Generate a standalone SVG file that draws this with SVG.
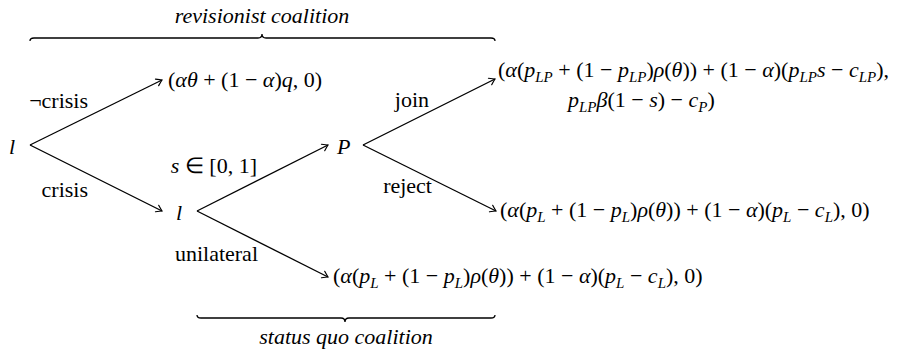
<svg xmlns="http://www.w3.org/2000/svg" width="911" height="352" viewBox="0 0 911 352">
<style>
  .edge { stroke: #000; stroke-width: 1.3; fill: none; }
  .head { stroke: #000; stroke-width: 1.2; fill: none; stroke-linecap: round; }
  .brace { stroke: #000; stroke-width: 1.3; fill: none; }
</style>
<rect width="911" height="352" fill="#fff"/>

<g id="connectors">
  <line class="edge" x1="30" y1="145" x2="162" y2="80"/>
  <path class="head" transform="translate(162,80) rotate(-26.2)" d="M-5.5,-3.6 Q-1.6,-0.9 0,0 Q-1.6,0.9 -5.5,3.6"/>
  <line class="edge" x1="30" y1="145" x2="162" y2="211"/>
  <path class="head" transform="translate(162,211) rotate(26.6)" d="M-5.5,-3.6 Q-1.6,-0.9 0,0 Q-1.6,0.9 -5.5,3.6"/>
  <line class="edge" x1="197" y1="211" x2="328" y2="145"/>
  <path class="head" transform="translate(328,145) rotate(-26.7)" d="M-5.5,-3.6 Q-1.6,-0.9 0,0 Q-1.6,0.9 -5.5,3.6"/>
  <line class="edge" x1="197" y1="211" x2="328" y2="277"/>
  <path class="head" transform="translate(328,277) rotate(26.7)" d="M-5.5,-3.6 Q-1.6,-0.9 0,0 Q-1.6,0.9 -5.5,3.6"/>
  <line class="edge" x1="363" y1="145" x2="495" y2="79"/>
  <path class="head" transform="translate(495,79) rotate(-26.6)" d="M-5.5,-3.6 Q-1.6,-0.9 0,0 Q-1.6,0.9 -5.5,3.6"/>
  <line class="edge" x1="363" y1="145" x2="496" y2="211"/>
  <path class="head" transform="translate(496,211) rotate(26.4)" d="M-5.5,-3.6 Q-1.6,-0.9 0,0 Q-1.6,0.9 -5.5,3.6"/>
</g>

<g id="edge-labels" text-anchor="end">
  <text font-family="Liberation Serif" font-size="22" x="88" y="108">¬crisis</text>
  <text font-family="Liberation Serif" font-size="22" x="88" y="197">crisis</text>
  <text font-family="Liberation Serif" font-size="22" x="257" y="173"><tspan font-style="italic">s</tspan> ∈ [0, 1]</text>
  <text font-family="Liberation Serif" font-size="22" x="258" y="261">unilateral</text>
  <text font-family="Liberation Serif" font-size="22" x="429" y="107">join</text>
  <text font-family="Liberation Serif" font-size="22" x="432" y="193">reject</text>
</g>

<g id="node-l1"><text font-family="Liberation Serif" font-size="22" font-style="italic" x="9" y="154">l</text></g>
<g id="node-l2"><text font-family="Liberation Serif" font-size="22" font-style="italic" x="176" y="220">l</text></g>
<g id="node-P"><text font-family="Liberation Serif" font-size="22" font-style="italic" x="337" y="154">P</text></g>

<g id="payoff-nocrisis">
  <text font-family="Liberation Serif" font-size="22" x="168" y="87">(<tspan font-style="italic">αθ</tspan> + (1 − <tspan font-style="italic">α</tspan>)<tspan font-style="italic">q</tspan>, 0)</text>
</g>

<g id="payoff-join">
  <text font-family="Liberation Serif" font-size="22" x="498" y="77">(<tspan font-style="italic">α</tspan>(<tspan font-style="italic">p</tspan><tspan font-size="15" font-style="italic" dy="5">LP</tspan><tspan dy="-5"> + (1 − </tspan><tspan font-style="italic">p</tspan><tspan font-size="15" font-style="italic" dy="5">LP</tspan><tspan dy="-5">)</tspan><tspan font-style="italic">ρ</tspan>(<tspan font-style="italic">θ</tspan>)) + (1 − <tspan font-style="italic">α</tspan>)(<tspan font-style="italic">p</tspan><tspan font-size="15" font-style="italic" dy="5">LP</tspan><tspan font-style="italic" dy="-5">s</tspan> − <tspan font-style="italic">c</tspan><tspan font-size="15" font-style="italic" dy="5">LP</tspan><tspan dy="-5">),</tspan></text>
  <text font-family="Liberation Serif" font-size="22" x="568" y="107"><tspan font-style="italic">p</tspan><tspan font-size="15" font-style="italic" dy="5">LP</tspan><tspan font-style="italic" dy="-5">β</tspan>(1 − <tspan font-style="italic">s</tspan>) − <tspan font-style="italic">c</tspan><tspan font-size="15" font-style="italic" dy="5">P</tspan><tspan dy="-5">)</tspan></text>
</g>

<g id="payoff-reject">
  <text font-family="Liberation Serif" font-size="22" x="500" y="217">(<tspan font-style="italic">α</tspan>(<tspan font-style="italic">p</tspan><tspan font-size="15" font-style="italic" dy="5">L</tspan><tspan dy="-5"> + (1 − </tspan><tspan font-style="italic">p</tspan><tspan font-size="15" font-style="italic" dy="5">L</tspan><tspan dy="-5">)</tspan><tspan font-style="italic">ρ</tspan>(<tspan font-style="italic">θ</tspan>)) + (1 − <tspan font-style="italic">α</tspan>)(<tspan font-style="italic">p</tspan><tspan font-size="15" font-style="italic" dy="5">L</tspan><tspan dy="-5"> − </tspan><tspan font-style="italic">c</tspan><tspan font-size="15" font-style="italic" dy="5">L</tspan><tspan dy="-5">), 0)</tspan></text>
</g>

<g id="payoff-unilateral">
  <text font-family="Liberation Serif" font-size="22" x="333" y="283">(<tspan font-style="italic">α</tspan>(<tspan font-style="italic">p</tspan><tspan font-size="15" font-style="italic" dy="5">L</tspan><tspan dy="-5"> + (1 − </tspan><tspan font-style="italic">p</tspan><tspan font-size="15" font-style="italic" dy="5">L</tspan><tspan dy="-5">)</tspan><tspan font-style="italic">ρ</tspan>(<tspan font-style="italic">θ</tspan>)) + (1 − <tspan font-style="italic">α</tspan>)(<tspan font-style="italic">p</tspan><tspan font-size="15" font-style="italic" dy="5">L</tspan><tspan dy="-5"> − </tspan><tspan font-style="italic">c</tspan><tspan font-size="15" font-style="italic" dy="5">L</tspan><tspan dy="-5">), 0)</tspan></text>
</g>

<g id="revisionist-coalition">
  <path class="brace" d="M30,41 Q30,38 34,38 L258,38 Q262,38 262,34 Q262,38 266,38 L491,38 Q495,38 495,41"/>
  <text font-family="Liberation Serif" font-size="22" font-style="italic" text-anchor="middle" x="262" y="23">revisionist coalition</text>
</g>

<g id="status-quo-coalition">
  <path class="brace" d="M197,315 Q197,318 201,318 L341,318 Q345,318 345,322 Q345,318 349,318 L491,318 Q495,318 495,315"/>
  <text font-family="Liberation Serif" font-size="22" font-style="italic" text-anchor="middle" x="346" y="344">status quo coalition</text>
</g>
</svg>
